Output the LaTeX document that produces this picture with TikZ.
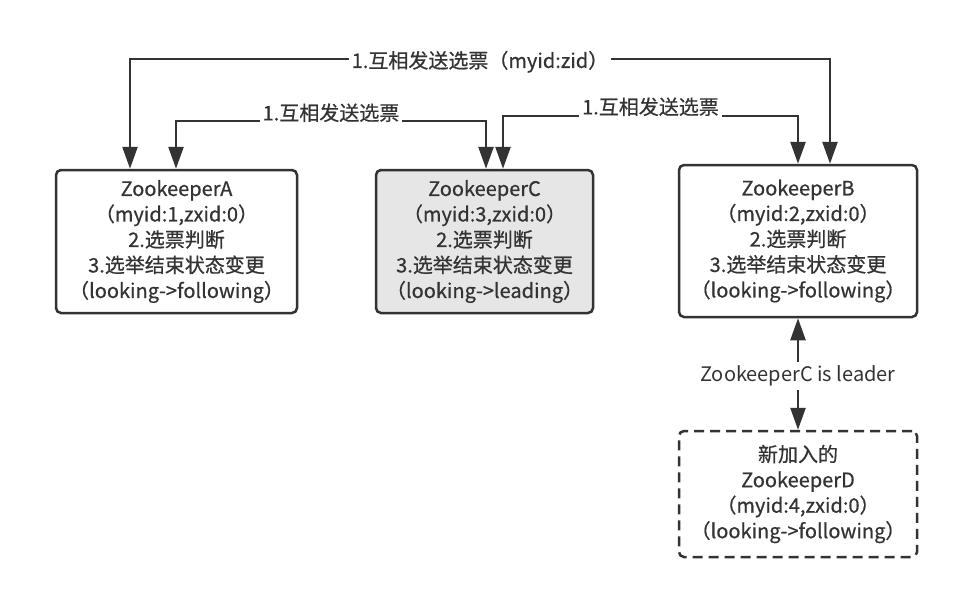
\documentclass[tikz,border=0pt]{standalone}
\usepackage{fontspec}
\setmainfont{Noto Sans CJK SC}
\newfontfamily\zkfont[RawFeature={embolden=0.6}]{Noto Sans CJK SC}
\usetikzlibrary{arrows.meta}
\definecolor{ink}{HTML}{333333}
\definecolor{leadfill}{HTML}{E6E6E6}
\begin{document}
\begin{tikzpicture}[x=1pt, y=-1pt, >={Triangle[length=22pt,width=15pt]},
    zk/.style={draw=ink, line width=2.5pt, rounded corners=5pt, align=center, text=ink, inner sep=0pt,
        font=\zkfont\fontsize{20}{25.5}\selectfont},
    msg/.style={fill=white, text=ink, inner sep=3pt, font=\zkfont\fontsize{20}{24}\selectfont},
    wire/.style={draw=ink, line width=2.5pt}]
    \useasboundingbox (0,0) rectangle (968,606);

    \node[zk, minimum width=241pt, minimum height=143pt] at (176.5, 241.5) (A)
        {ZookeeperA\\（myid:1,zxid:0）\\2.选票判断\\3.选举结束状态变更\\（looking->following）};
    \node[zk, fill=leadfill, minimum width=217pt, minimum height=143pt] at (484.5, 241.5) (C)
        {ZookeeperC\\（myid:3,zxid:0）\\2.选票判断\\3.选举结束状态变更\\（looking->leading）};
    \node[zk, minimum width=238pt, minimum height=152pt] at (798, 241) (B)
        {ZookeeperB\\（myid:2,zxid:0）\\2.选票判断\\3.选举结束状态变更\\（looking->following）};
    \node[zk, dash pattern=on 10pt off 6pt, minimum width=238pt, minimum height=126pt] at (798, 494) (D)
        {新加入的\\ZookeeperD\\（myid:4,zxid:0）\\（looking->following）};
    \node[msg, inner sep=4pt, font=\fontsize{20}{24}\selectfont] at (798, 376) (L) {ZookeeperC is leader};

    \draw[wire, <->] ([xshift=-46.5pt]A.north) -- ++(0,-110)
        -| node[msg, pos=0.25, yshift=-3pt] {1.互相发送选票（myid:zid）} ([xshift=32pt]B.north);
    \draw[wire, <->] ([xshift=-0.5pt]A.north) -- ++(0,-48)
        -| node[msg, pos=0.25, yshift=8pt] {1.互相发送选票} ([xshift=1.5pt]C.north);
    \draw[wire, <->] ([xshift=18.5pt]C.north) -- ++(0,-53)
        -| node[msg, pos=0.25, yshift=9pt] {1.互相发送选票} (B.north);
    \draw[wire, ->] (L) -- (B);
    \draw[wire, ->] (L) -- (D);
\end{tikzpicture}
\end{document}
